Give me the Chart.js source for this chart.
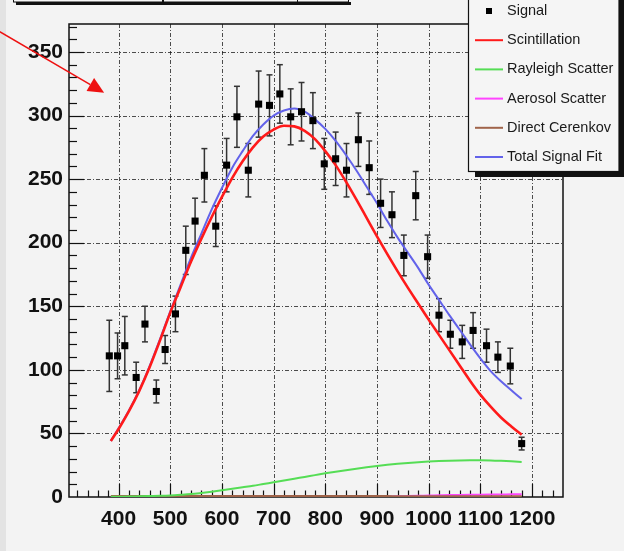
<!DOCTYPE html>
<html>
<head>
<meta charset="utf-8">
<script src="https://cdn.jsdelivr.net/npm/chart.js@4.4.1/dist/chart.umd.min.js"></script>
<style>
  html, body { margin: 0; padding: 0; background: #f3f3f3; }
  canvas { display: block; }
</style>
</head>
<body>
<canvas id="fitChart" width="624" height="551"></canvas>
<script>
// measured signal points (wavelength, counts, error)
const signalX = [382, 398, 412, 434, 451, 473, 490, 510, 530, 548, 566, 588, 609, 629, 651, 671, 692, 712, 733, 754,
  776, 798, 820, 841, 864, 885, 907, 929, 952, 975, 998, 1020, 1042, 1065, 1086, 1112, 1134, 1158, 1180];
const signalY = [111, 111, 119, 94, 136, 83, 116, 144, 194, 217, 253, 213, 261, 299, 257, 309, 308, 317, 299, 303,
  296, 262, 266, 257, 281, 259, 231, 222, 190, 237, 189, 143, 128, 122, 131, 119, 110, 103, 42];
const signalErr = [28, 18, 23, 12, 14, 9, 11, 14, 19, 18, 21, 16, 21, 24, 21, 26, 24, 23, 22, 23,
  22, 20, 21, 21, 21, 21, 19, 18, 16, 19, 17, 13, 11, 13, 14, 13, 12, 14, 5];

// fit components, read at these wavelengths
const curveX = [385, 400, 420, 440, 460, 480, 500, 520, 540, 560, 580, 600, 620, 640, 660, 680, 700, 720, 740, 760,
  780, 800, 820, 840, 860, 880, 900, 920, 940, 960, 980, 1000, 1020, 1040, 1060, 1080, 1100, 1120, 1140, 1160, 1180];
const scintillation = [44, 53.5, 67.5, 83.5, 102, 123, 145, 165, 185, 203, 220, 236, 251, 264, 275, 283.5, 289, 292, 291.5, 288,
  281.5, 272, 261, 248, 234, 219.5, 205, 191, 177.5, 164.5, 152, 139.5, 127.5, 115.5, 103.5, 91.5, 80.5, 71, 62.5, 55.5, 49];
const rayleigh = [0.1, 0.2, 0.3, 0.5, 0.7, 0.9, 1.2, 1.7, 2.3, 3.2, 4.2, 5.3, 6.4, 7.6, 8.8, 10.2, 11.6, 13, 14.4, 15.8,
  17.2, 18.6, 19.9, 21.1, 22.3, 23.4, 24.4, 25.3, 26.1, 26.8, 27.4, 27.9, 28.3, 28.6, 28.8, 28.9, 28.9, 28.8, 28.5, 28.1, 27.6];
const aerosol = [0, 0, 0, 0, 0, 0, 0, 0, 0, 0, 0, 0, 0, 0, 0, 0, 0, 0, 0, 0,
  0, 0, 0.1, 0.1, 0.2, 0.2, 0.3, 0.4, 0.5, 0.7, 0.9, 1.1, 1.3, 1.5, 1.6, 1.7, 1.8, 1.9, 2.0, 2.1, 2.2];
const cerenkov = [0.8, 0.8, 0.8, 0.8, 0.8, 0.8, 0.8, 0.8, 0.8, 0.8, 0.8, 0.8, 0.8, 0.8, 0.8, 0.8, 0.8, 0.8, 0.7, 0.7,
  0.7, 0.7, 0.7, 0.7, 0.7, 0.7, 0.7, 0.7, 0.6, 0.6, 0.6, 0.6, 0.6, 0.6, 0.6, 0.6, 0.6, 0.6, 0.6, 0.6, 0.6];
const totalFit = [44, 54, 68, 84, 103, 124, 146, 167, 188, 207, 226, 243, 259, 272, 284, 293, 300, 304, 305.5, 303,
  297, 289.5, 280, 269, 257, 244, 231, 217, 204, 192, 180, 167, 155, 143, 131.5, 120, 109, 99, 91, 84, 77];

const xTicks = [400, 500, 600, 700, 800, 900, 1000, 1100, 1200];
const yTicks = [0, 50, 100, 150, 200, 250, 300, 350];
const xRange = [304, 1260];
const yRange = [0, 372];
const xMinorStep = 20;
const yMinorStep = 10;

// red pointer arrow drawn on the pad, in data units
const arrowFrom = { x: 170, y: 366 };
const arrowTo = { x: 372, y: 318 };

function toPoints(ys) {
  return curveX.map((x, i) => ({ x: x, y: ys[i] }));
}

const padBackground = {
  id: "padBackground",
  beforeDraw(chart) {
    const { ctx, width, height } = chart;
    ctx.save();
    ctx.fillStyle = "#f3f3f3";
    ctx.fillRect(0, 0, width, height);
    ctx.fillStyle = "#e3e3e3";
    ctx.fillRect(0, 0, 6, height);
    ctx.restore();
  }
};

function hline(ctx, x1, x2, y) {
  ctx.beginPath();
  ctx.moveTo(x1, y);
  ctx.lineTo(x2, y);
  ctx.stroke();
}

function vline(ctx, x, y1, y2) {
  ctx.beginPath();
  ctx.moveTo(x, y1);
  ctx.lineTo(x, y2);
  ctx.stroke();
}

// grid, frame, inside ticks and error bars, under the curves
const rootFrame = {
  id: "rootFrame",
  beforeDatasetsDraw(chart) {
    const { ctx, chartArea: a, scales: { x, y } } = chart;
    ctx.save();

    ctx.strokeStyle = "rgba(20,20,20,0.75)";
    ctx.lineWidth = 1;
    ctx.setLineDash([4, 2, 1, 2]);
    xTicks.forEach(v => {
      const px = Math.round(x.getPixelForValue(v)) + 0.5;
      vline(ctx, px, a.top, a.bottom);
    });
    yTicks.forEach(v => {
      if (v === 0) return;
      const py = Math.round(y.getPixelForValue(v)) + 0.5;
      hline(ctx, a.left, a.right, py);
    });
    ctx.setLineDash([]);

    ctx.strokeStyle = "#111";
    ctx.lineWidth = 1.5;
    ctx.strokeRect(a.left, a.top, a.right - a.left, a.bottom - a.top);

    ctx.lineWidth = 1.2;
    for (let v = Math.ceil(xRange[0] / xMinorStep) * xMinorStep; v < xRange[1]; v += xMinorStep) {
      const px = Math.round(x.getPixelForValue(v)) + 0.5;
      const len = v % 100 === 0 ? 13 : 6.5;
      vline(ctx, px, a.bottom, a.bottom - len);
    }
    for (let v = yMinorStep; v < yRange[1]; v += yMinorStep) {
      const py = Math.round(y.getPixelForValue(v)) + 0.5;
      const len = v % 50 === 0 ? 15 : 8;
      hline(ctx, a.left, a.left + len, py);
    }

    ctx.strokeStyle = "#333";
    ctx.lineWidth = 1.5;
    signalX.forEach((sx, i) => {
      const px = x.getPixelForValue(sx);
      const top = y.getPixelForValue(signalY[i] + signalErr[i]);
      const bot = y.getPixelForValue(signalY[i] - signalErr[i]);
      vline(ctx, px, top, bot);
      hline(ctx, px - 3, px + 3, top);
      hline(ctx, px - 3, px + 3, bot);
    });

    ctx.restore();
  }
};

const padDecor = {
  id: "padDecor",
  afterDraw(chart) {
    const { ctx, scales: { x, y } } = chart;
    ctx.save();

    // clipped title box at the top
    ctx.fillStyle = "#f6f6f6";
    ctx.fillRect(13, 0, 336, 2);
    ctx.strokeStyle = "#111";
    ctx.lineWidth = 1;
    ctx.strokeRect(13.5, -5, 335, 7);
    ctx.fillStyle = "#111";
    ctx.fillRect(16, 2, 335, 3);
    ctx.fillRect(162, 0, 2, 4);
    ctx.fillRect(297, 0, 1, 4);

    // red arrow
    const x1 = x.getPixelForValue(arrowFrom.x), y1 = y.getPixelForValue(arrowFrom.y);
    const x2 = x.getPixelForValue(arrowTo.x), y2 = y.getPixelForValue(arrowTo.y);
    const ang = Math.atan2(y2 - y1, x2 - x1);
    const headLen = 16, headHalf = 7.5;
    const bx = x2 - headLen * Math.cos(ang), by = y2 - headLen * Math.sin(ang);
    ctx.strokeStyle = "#ee1111";
    ctx.fillStyle = "#ee1111";
    ctx.lineWidth = 1.5;
    ctx.beginPath();
    ctx.moveTo(x1, y1);
    ctx.lineTo(bx, by);
    ctx.stroke();
    ctx.beginPath();
    ctx.moveTo(x2, y2);
    ctx.lineTo(bx + headHalf * Math.sin(ang), by - headHalf * Math.cos(ang));
    ctx.lineTo(bx - headHalf * Math.sin(ang), by + headHalf * Math.cos(ang));
    ctx.closePath();
    ctx.fill();

    // legend box with shadow
    ctx.fillStyle = "#111";
    ctx.fillRect(475, 172, 149, 5);
    ctx.fillRect(619, 0, 5, 177);
    ctx.fillStyle = "#f5f5f5";
    ctx.fillRect(468, -2, 151, 174);
    ctx.strokeStyle = "#111";
    ctx.lineWidth = 1.2;
    ctx.strokeRect(468.5, -2, 150.5, 173.5);

    const entries = ["Signal", "Scintillation", "Rayleigh Scatter", "Aerosol Scatter", "Direct Cerenkov", "Total Signal Fit"];
    ctx.font = "14.5px 'Liberation Sans', Arial, sans-serif";
    ctx.textBaseline = "middle";
    ctx.textAlign = "left";
    entries.forEach((label, i) => {
      const ds = chart.data.datasets.find(d => d.label === label);
      const ly = 11 + i * 29.2;
      if (label === "Signal") {
        ctx.fillStyle = "#000";
        ctx.fillRect(486, ly - 3, 6, 6);
      } else {
        ctx.strokeStyle = ds.borderColor;
        ctx.lineWidth = 2;
        hline(ctx, 475, 503, ly);
      }
      ctx.fillStyle = "#1a1a1a";
      ctx.fillText(label, 507, ly);
    });

    ctx.restore();
  }
};

const axisFont = { family: "'Liberation Sans', Arial, sans-serif", size: 21, weight: "bold" };

function fitLine(label, ys, color, width, order) {
  return {
    label: label,
    data: toPoints(ys),
    borderColor: color,
    borderWidth: width,
    pointRadius: 0,
    cubicInterpolationMode: "monotone",
    order: order
  };
}

new Chart(document.getElementById("fitChart"), {
  type: "line",
  data: {
    datasets: [
      {
        label: "Signal",
        data: signalX.map((sx, i) => ({ x: sx, y: signalY[i] })),
        showLine: false,
        pointStyle: "rect",
        pointRadius: 5,
        pointBackgroundColor: "#000",
        pointBorderWidth: 0,
        borderColor: "#000",
        order: 0
      },
      fitLine("Scintillation", scintillation, "#ff1a1a", 2.6, 1),
      fitLine("Rayleigh Scatter", rayleigh, "#55dd55", 2, 3),
      fitLine("Aerosol Scatter", aerosol, "#ff44ff", 2, 5),
      fitLine("Direct Cerenkov", cerenkov, "#a0644a", 2, 4),
      fitLine("Total Signal Fit", totalFit, "#6262ea", 2, 2)
    ]
  },
  options: {
    responsive: false,
    animation: false,
    events: [],
    layout: { padding: { top: 24, right: 61, left: 0, bottom: 0 } },
    plugins: {
      legend: { display: false },
      tooltip: { enabled: false }
    },
    scales: {
      x: {
        type: "linear",
        min: xRange[0],
        max: xRange[1],
        afterBuildTicks(scale) {
          scale.ticks = xTicks.map(v => ({ value: v }));
        },
        afterFit(scale) {
          scale.height = 54;
        },
        grid: { display: false, drawTicks: false },
        border: { display: false },
        ticks: {
          color: "#111",
          font: axisFont,
          padding: 10,
          maxRotation: 0,
          autoSkip: false,
          callback: v => String(v)
        }
      },
      y: {
        min: yRange[0],
        max: yRange[1],
        afterBuildTicks(scale) {
          scale.ticks = yTicks.map(v => ({ value: v }));
        },
        afterFit(scale) {
          scale.width = 69;
        },
        grid: { display: false, drawTicks: false },
        border: { display: false },
        ticks: { color: "#111", font: axisFont, padding: 6, callback: v => String(v) }
      }
    }
  },
  plugins: [padBackground, rootFrame, padDecor]
});
</script>
</body>
</html>
